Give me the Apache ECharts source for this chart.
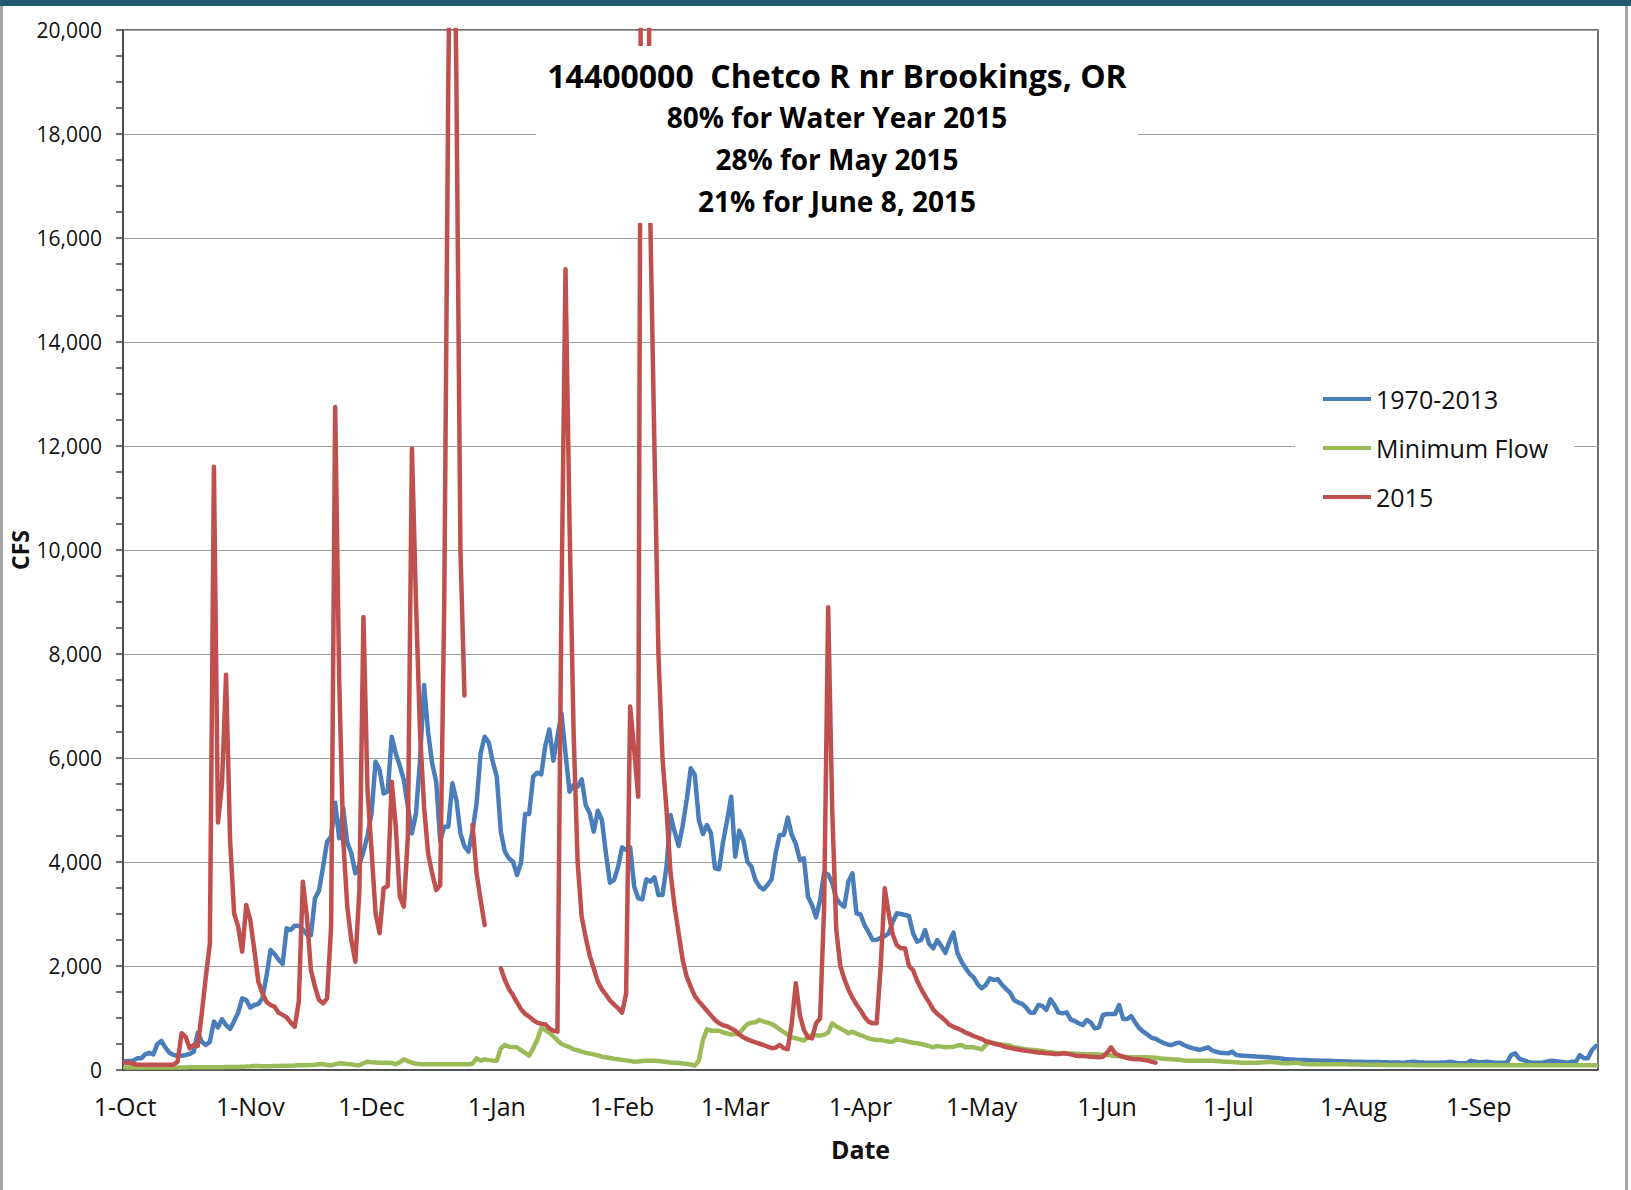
<!DOCTYPE html>
<html>
<head>
<meta charset="utf-8">
<title>14400000 Chetco R nr Brookings, OR</title>
<script src="https://cdn.jsdelivr.net/npm/echarts@6.0.0/dist/echarts.min.js"></script>
<style>
  html, body { margin: 0; padding: 0; background: #fff; }
  #chart { width: 1631px; height: 1190px; }
</style>
</head>
<body>
<div id="chart"></div>
<script>
// water year Oct 1 .. Sep 30, one category per day
const monthNames = ['Oct', 'Nov', 'Dec', 'Jan', 'Feb', 'Mar', 'Apr', 'May', 'Jun', 'Jul', 'Aug', 'Sep'];
const monthLengths = [31, 30, 31, 31, 28, 31, 30, 31, 30, 31, 31, 30];
const yTicks = [0, 2000, 4000, 6000, 8000, 10000, 12000, 14000, 16000, 18000, 20000];

const titleLines = [
  '14400000  Chetco R nr Brookings, OR',
  '80% for Water Year 2015',
  '28% for May 2015',
  '21% for June 8, 2015',
];

// daily flow, cfs
const flow1970_2013 = [
  170, 175, 180, 224, 224, 300, 330, 300, 500, 558,
  430, 330, 290, 270, 275, 288, 310, 350, 718, 545,
  480, 545, 930, 820, 974, 865, 790, 940, 1103, 1378,
  1346, 1200, 1250, 1270, 1380, 1800, 2308, 2230, 2120, 2038,
  2724, 2692, 2776, 2776, 2700, 2610, 2596, 3300, 3449, 3900,
  4391, 4487, 5141, 4455, 5032, 4372, 4167, 3782, 3950, 4200,
  4500, 4936, 5929, 5769, 5320, 5352, 6410, 6090, 5850, 5577,
  5064, 4551, 4936, 5961, 7404, 6500, 5897, 5545, 4400, 4680,
  4680, 5513, 5192, 4551, 4300, 4199, 4600, 5128, 6090, 6410,
  6300, 5929, 5641, 4583, 4199, 4070, 4006, 3750, 3987, 4923,
  4923, 5641, 5718, 5686, 6231, 6551, 5948, 6410, 6859, 6090,
  5352, 5481, 5449, 5590, 5096, 4936, 4583, 4987, 4808, 4167,
  3602, 3650, 3900, 4282, 4231, 4282, 3526, 3301, 3282, 3667,
  3622, 3705, 3365, 3365, 3910, 4904, 4583, 4308, 4700, 5200,
  5801, 5673, 4808, 4538, 4711, 4551, 3878, 3859, 4391, 4800,
  5256, 4103, 4603, 4423, 4006, 3910, 3654, 3526, 3474, 3558,
  3667, 4167, 4519, 4519, 4853, 4519, 4346, 4038, 4070, 3333,
  3173, 2936, 3269, 3795, 3760, 3600, 3300, 3200, 3141, 3622,
  3782, 3013, 2990, 2788, 2650, 2500, 2505, 2540, 2577, 2628,
  2853, 3013, 3000, 2980, 2962, 2628, 2468, 2500, 2692, 2423,
  2340, 2500, 2385, 2250, 2468, 2641, 2244, 2083, 1960, 1850,
  1780, 1650, 1570, 1635, 1763, 1731, 1744, 1640, 1560, 1487,
  1346, 1300, 1270, 1199, 1103, 1103, 1250, 1231, 1154, 1359,
  1250, 1103, 1090, 1109, 974, 940, 900, 865, 962, 910,
  801, 820, 1058, 1077, 1077, 1077, 1250, 981, 981, 1038,
  910, 801, 737, 680, 620, 600, 558, 520, 490, 481,
  513, 526, 481, 450, 420, 405, 385, 410, 436, 380,
  350, 333, 325, 320, 353, 288, 280, 272, 268, 265,
  258, 255, 250, 243, 237, 230, 222, 212, 205, 202,
  195, 192, 190, 188, 185, 183, 180, 178, 176, 174,
  170, 168, 165, 163, 160, 160, 158, 156, 155, 154,
  152, 150, 148, 146, 144, 142, 141, 145, 152, 160,
  150, 145, 141, 141, 140, 141, 142, 150, 160, 145,
  128, 130, 128, 180, 165, 147, 152, 160, 150, 141,
  141, 140, 141, 288, 320, 220, 192, 160, 141, 140,
  141, 145, 165, 180, 170, 160, 150, 141, 160, 155,
  288, 224, 224, 385, 462,
];

const minimumFlow = [
  50, 50, 50, 50, 50, 50, 50, 50, 50, 50,
  50, 50, 50, 50, 50, 50, 52, 52, 52, 52,
  55, 55, 55, 55, 55, 58, 58, 60, 60, 62,
  65, 70, 77, 75, 72, 70, 72, 75, 78, 80,
  80, 82, 85, 90, 90, 92, 95, 100, 110, 115,
  95, 90, 110, 128, 125, 115, 110, 95, 90, 130,
  160, 150, 145, 140, 140, 141, 135, 109, 150, 205,
  170, 141, 120, 115, 112, 110, 109, 109, 109, 109,
  109, 109, 109, 109, 109, 109, 120, 224, 180, 205,
  190, 180, 180, 417, 481, 449, 440, 436, 380, 330,
  276, 417, 577, 801, 769, 718, 650, 570, 500, 470,
  440, 397, 380, 355, 330, 315, 300, 280, 256, 245,
  230, 215, 205, 195, 185, 175, 160, 165, 175, 180,
  180, 178, 173, 165, 155, 145, 141, 135, 125, 115,
  105, 85, 180, 577, 782, 756, 756, 756, 720, 705,
  680, 690, 700, 800, 880, 910, 920, 962, 930, 910,
  885, 840, 782, 730, 673, 628, 610, 590, 564, 641,
  673, 670, 660, 680, 720, 897, 840, 800, 756, 705,
  737, 700, 673, 640, 609, 590, 577, 577, 560, 545,
  545, 590, 575, 558, 540, 525, 513, 500, 481, 460,
  436, 462, 450, 436, 440, 449, 470, 481, 436, 436,
  436, 417, 397, 481, 545, 513, 500, 490, 481, 470,
  436, 430, 415, 397, 390, 385, 375, 365, 353, 345,
  333, 328, 325, 320, 318, 315, 308, 306, 304, 302,
  301, 298, 295, 288, 280, 269, 262, 256, 250, 244,
  244, 244, 244, 244, 240, 235, 224, 218, 212, 205,
  200, 195, 185, 180, 180, 180, 180, 180, 180, 180,
  175, 170, 160, 160, 155, 150, 141, 141, 141, 141,
  141, 145, 150, 154, 154, 145, 135, 128, 128, 135,
  141, 125, 115, 112, 110, 109, 109, 109, 109, 109,
  109, 109, 109, 105, 105, 105, 100, 100, 100, 100,
  100, 100, 98, 98, 96, 96, 95, 95, 95, 93,
  93, 92, 92, 92, 92, 91, 91, 90, 90, 90,
  90, 90, 90, 90, 90, 90, 90, 90, 90, 90,
  90, 90, 90, 90, 90, 90, 90, 90, 90, 90,
  90, 90, 90, 90, 90, 90, 90, 90, 90, 90,
  90, 90, 90, 90, 90,
];

// null = missing day in the record
const flow2015 = [
  140, 140, 120, 100, 100, 100, 100, 100, 100, 100,
  100, 100, 100, 160, 705, 641, 417, 481, 462, 1090,
  1795, 2436, 11600, 4760, 5500, 7600, 4423, 3013, 2756, 2276,
  3173, 2885, 2308, 1699, 1474, 1314, 1250, 1218, 1103, 1060,
  1013, 910, 833, 1314, 3622, 2949, 1923, 1603, 1346, 1282,
  1378, 2756, 12750, 7500, 4423, 3141, 2500, 2083, 3462, 8710,
  5385, 4231, 3013, 2628, 3494, 3539, 5545, 4680, 3333, 3141,
  4500, 11950, 9000, 6500, 5064, 4167, 3782, 3462, 3558, 9000,
  19000, 26000, 19000, 10000, 7200, null, 4711, 3782, 3269, 2788,
  null, null, null, 1955, 1731, 1560, 1440, 1300, 1170, 1080,
  1026, 960, 910, 885, 880, 801, 756, 737, 9000, 15400,
  10500, 6500, 4000, 2950, 2550, 2200, 1950, 1700, 1550, 1450,
  1340, 1260, 1190, 1103, 1470, 6990, 6154, 5256, 30000, 28000,
  16300, 12000, 8000, 6000, 5000, 3782, 3141, 2628, 2115, 1795,
  1600, 1420, 1320, 1230, 1140, 1050, 960, 900, 860, 840,
  800, 756, 680, 630, 590, 560, 530, 505, 481, 450,
  420, 430, 481, 420, 400, 900, 1667, 1050, 769, 630,
  609, 897, 994, 3141, 8900, 5000, 2700, 2000, 1750, 1550,
  1390, 1260, 1150, 1020, 930, 897, 897, 2000, 3494, 3000,
  2600, 2400, 2340, 2340, 2000, 1920, 1720, 1560, 1420, 1300,
  1160, 1080, 1020, 950, 870, 830, 800, 765, 720, 690,
  654, 625, 595, 555, 530, 510, 490, 470, 440, 425,
  410, 395, 380, 370, 358, 348, 338, 330, 320, 315,
  308, 308, 315, 315, 300, 280, 270, 268, 262, 256,
  248, 244, 256, 330, 436, 320, 280, 255, 230, 215,
  205, 205, 195, 180, 160, 141,
];

const days = [];
monthNames.forEach((m, i) => {
  for (let d = 1; d <= monthLengths[i]; d++) days.push(`${d}-${m}`);
});
const isMonthStart = (idx, v) => String(v).startsWith('1-');

const FONT = '"Open Sans", "Noto Sans", sans-serif';
const INK = '#111';
const AXIS = '#404040';
const LINE_W = 4.5;

const chart = echarts.init(document.getElementById('chart'), null, { renderer: 'svg' });

function lineSeries(name, data, color, z) {
  return {
    name, type: 'line', data, z,
    symbol: 'none', showSymbol: false, connectNulls: false,
    itemStyle: { color },
    lineStyle: { color, width: LINE_W, cap: 'round', join: 'round' },
  };
}

function titleText(text, y, size) {
  return {
    type: 'text', z: 61, silent: true, x: 837, y,
    style: { text, fill: '#000', fontFamily: FONT, fontWeight: 'bold', fontSize: size, align: 'center', verticalAlign: 'middle' },
  };
}

chart.setOption({
  animation: false,
  backgroundColor: '#fff',
  textStyle: { fontFamily: FONT },
  grid: {
    left: 123, right: 33, top: 30, bottom: 120,
    containLabel: false, outerBoundsMode: 'none',
    show: true, borderColor: AXIS, borderWidth: 1.5,
  },
  legend: {
    orient: 'vertical',
    left: 1295,
    top: 374,
    padding: [10, 26, 10, 28],
    itemGap: 19,
    itemWidth: 48,
    itemHeight: 4,
    icon: 'rect',
    backgroundColor: '#fff',
    z: 20,
    data: ['1970-2013', 'Minimum Flow', '2015'],
    textStyle: { fontFamily: FONT, fontSize: 25, lineHeight: 30, color: INK },
  },
  xAxis: {
    type: 'category',
    data: days,
    boundaryGap: true,
    name: 'Date',
    nameLocation: 'middle',
    nameGap: 64,
    nameMoveOverlap: false,
    nameTextStyle: { fontFamily: FONT, fontSize: 25, fontWeight: 'bold', lineHeight: 30, color: INK },
    axisLine: { lineStyle: { color: AXIS, width: 1.5 } },
    axisTick: { interval: isMonthStart, length: 13, lineStyle: { color: AXIS, width: 1.5 } },
    axisLabel: { interval: isMonthStart, margin: 21, fontSize: 25, lineHeight: 30, color: INK, fontFamily: FONT },
    splitLine: { show: false },
  },
  yAxis: {
    type: 'value',
    min: yTicks[0],
    max: yTicks[yTicks.length - 1],
    interval: yTicks[1] - yTicks[0],
    name: 'CFS',
    nameLocation: 'middle',
    nameRotate: 90,
    nameGap: 92,
    nameMoveOverlap: false,
    nameTextStyle: { fontFamily: FONT, fontSize: 23, fontWeight: 'bold', color: INK },
    axisLine: { show: true, lineStyle: { color: AXIS, width: 1.5 } },
    axisTick: { show: true, length: 7, lineStyle: { color: AXIS, width: 1.5 } },
    minorTick: { show: true, splitNumber: 4, length: 7, lineStyle: { color: AXIS, width: 1.5 } },
    axisLabel: {
      margin: 21, fontSize: 21, color: INK, fontFamily: FONT,
      formatter: (v) => Number(v).toLocaleString('en-US'),
    },
    splitLine: { lineStyle: { color: '#a0a0a0', width: 1.2 } },
  },
  series: [
    lineSeries('1970-2013', flow1970_2013, '#4a7ebb', 2),
    lineSeries('Minimum Flow', minimumFlow, '#9bbb59', 3),
    lineSeries('2015', flow2015, '#c0504d', 4),
  ],
  graphic: [
    // slide frame round the chart
    { type: 'rect', z: 50, silent: true, shape: { x: 0, y: 0, width: 1631, height: 6 }, style: { fill: '#235b6c' } },
    { type: 'rect', z: 50, silent: true, shape: { x: 0, y: 6, width: 3, height: 1184 }, style: { fill: '#a6a6a6' } },
    { type: 'rect', z: 50, silent: true, shape: { x: 1625, y: 6, width: 3, height: 1184 }, style: { fill: '#a6a6a6' } },
    // title box, sits over the plot and hides what runs behind it
    { type: 'rect', z: 60, silent: true, shape: { x: 536, y: 46, width: 602, height: 177 }, style: { fill: '#fff' } },
    titleText(titleLines[0], 75, 32),
    titleText(titleLines[1], 117, 28),
    titleText(titleLines[2], 159, 28),
    titleText(titleLines[3], 201, 28),
  ],
});
</script>
</body>
</html>
